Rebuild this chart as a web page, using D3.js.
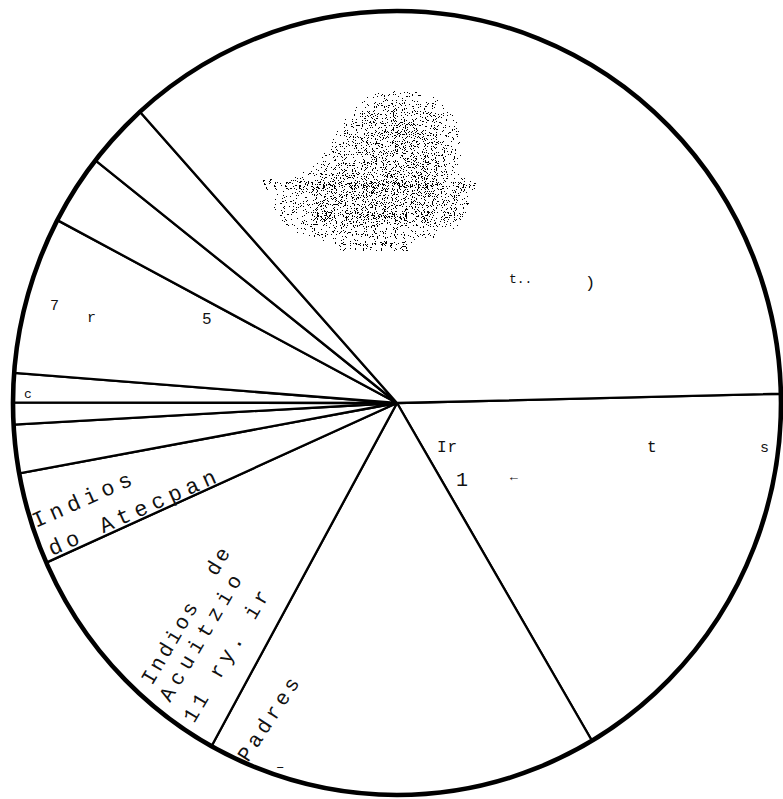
<!DOCTYPE html>
<html>
<head>
<meta charset="utf-8">
<script src="https://cdn.jsdelivr.net/npm/d3@7"></script>
<style>
  body { margin: 0; background: #fff; }
  svg { display: block; }
  .lbl { font-family: "Liberation Mono", "DejaVu Sans Mono", monospace; fill: #111; white-space: pre; }
</style>
</head>
<body>
<div id="chart"></div>
<script>
"use strict";

// slices, clockwise from the nearly horizontal spoke on the right
var sliceNames = ["Indios tributarios", "Padres", "Indios de Acuitzio", "Indios de Atecpan",
                  "Otros a", "Otros b", "Otros c", "Tr...s", "Otros d", "Otros e", "Españoles"];
var shares = [16.9, 16.5, 10.3, 3.8, 2.0, 0.9, 1.2, 6.5, 2.9, 2.7, 36.3];

// label text per slice (scan is faded, most of it unreadable)
var labelText = [
    ["Ir", "t", "s", "1", "\u2190"],
    ["Padres", "\u2013"],
    ["Indios  de", "Acuitzio", "11 ry. ir"],
    ["Indios", "do Atecpan"],
    [], [],
    ["c"],
    ["7", "r", "5"],
    [], [],
    ["Vecinos españoles de", "la ciudad y su", "comarca", "t..", ")"]
];

var width = 783, height = 799;
var cx = 397, cy = 403, rx = 384, ry = 392;
var startDeg = 88.65;

var svg = d3.select("#chart")
    .append("svg")
    .attr("width", width)
    .attr("height", height);

var defs = svg.append("defs");

// dot where noise + gain*alpha passes a cut
function speckleFilter(id, blur, gain, cut, seed) {
    var f = defs.append("filter")
        .attr("id", id)
        .attr("filterUnits", "userSpaceOnUse")
        .attr("x", 150).attr("y", 10).attr("width", 440).attr("height", 320)
        .attr("color-interpolation-filters", "sRGB");
    f.append("feTurbulence")
        .attr("type", "fractalNoise")
        .attr("baseFrequency", 0.9)
        .attr("numOctaves", 2)
        .attr("seed", seed)
        .attr("result", "noise");
    f.append("feColorMatrix")
        .attr("in", "noise")
        .attr("type", "matrix")
        .attr("values", "0 0 0 0 0  0 0 0 0 0  0 0 0 0 0  2.5 0 0 0 -0.75")
        .attr("result", "na");
    var src = "SourceAlpha";
    if (blur > 0) {
        f.append("feGaussianBlur").attr("in", "SourceAlpha").attr("stdDeviation", blur).attr("result", "soft");
        src = "soft";
    }
    f.append("feComposite")
        .attr("in", "na").attr("in2", src)
        .attr("operator", "arithmetic")
        .attr("k1", 0).attr("k2", 0.5).attr("k3", 0.5 * gain).attr("k4", -0.5 * cut)
        .attr("result", "sum");
    f.append("feComponentTransfer")
        .attr("in", "sum")
        .append("feFuncA").attr("type", "discrete").attr("tableValues", "0 0 1 1");
    f.append("feColorMatrix")
        .attr("type", "matrix")
        .attr("values", "0 0 0 0 0  0 0 0 0 0  0 0 0 0 0  0 0 0 1 0");
}
speckleFilter("blobSpeckle", 24, 0.9, 0.67, 4);
speckleFilter("textSpeckle", 0, 1, 0.55, 7);

// pie
var pie = d3.pie()
    .sort(null)
    .value(function(d){ return d; })
    .startAngle(startDeg * Math.PI / 180)
    .endAngle(startDeg * Math.PI / 180 + 2 * Math.PI);

var arc = d3.arc()
    .innerRadius(0)
    .outerRadius(rx);

var g = svg.append("g")
    .attr("transform", "translate(" + cx + "," + cy + ") scale(1," + (ry / rx) + ")");

g.selectAll(".slice")
    .data(pie(shares))
    .enter()
    .append("path")
    .attr("class", "slice")
    .attr("d", arc)
    .style("fill", "#fff")
    .style("stroke", "#000")
    .style("stroke-width", 2.3)
    .style("stroke-linejoin", "round")
    .attr("vector-effect", "non-scaling-stroke")
    .append("title")
    .text(function(d, i){ return sliceNames[i] + ": " + shares[i] + "%"; });

g.append("circle")
    .attr("r", rx)
    .style("fill", "none")
    .style("stroke", "#000")
    .style("stroke-width", 4.6)
    .attr("vector-effect", "non-scaling-stroke");

// smudged stamp in the top slice
var blob = svg.append("g").attr("filter", "url(#blobSpeckle)");
blob.append("ellipse")
    .attr("cx", 400).attr("cy", 130).attr("rx", 80).attr("ry", 58)
    .style("fill", "#000");
blob.append("ellipse")
    .attr("cx", 372).attr("cy", 205).attr("rx", 125).attr("ry", 58)
    .style("fill", "#000");

var stamp = svg.append("g").attr("filter", "url(#textSpeckle)");
var stampLines = labelText[10].slice(0, 3);
var stampPos = [[262, 190, 17], [312, 221, 17], [338, 251, 16]];
stampLines.forEach(function(t, i){
    stamp.append("text")
        .attr("class", "lbl")
        .attr("x", stampPos[i][0])
        .attr("y", stampPos[i][1])
        .style("font-size", stampPos[i][2] + "px")
        .style("font-weight", "bold")
        .style("letter-spacing", "0.6px")
        .style("fill", "#000")
        .text(t);
});

// label layout: [slice, line, x, y, rotation, size, letter-spacing]
var layout = [
    [0, 0, 437, 452, 0, 16, 1], [0, 1, 647, 452, 0, 16, 0], [0, 2, 760, 452, 0, 15, 0],
    [0, 3, 456, 486, 0, 20, 0], [0, 4, 510, 481, 0, 13, 0],
    [1, 0, 248, 763, -57, 21, 4], [1, 1, 276, 771, 0, 14, 0],
    [2, 0, 152, 686, -59.5, 21, 3.2], [2, 1, 170, 703, -59.5, 21, 6], [2, 2, 194, 724, -59.5, 21, 4.5],
    [3, 0, 36, 528, -24, 22, 5.5], [3, 1, 52, 556, -24, 22, 5.5],
    [6, 0, 24, 398, 0, 13, 0],
    [7, 0, 50, 310, 0, 15, 0], [7, 1, 87, 322, 0, 15, 0], [7, 2, 202, 324, 0, 16, 0],
    [10, 3, 509, 283, 0, 13, 0], [10, 4, 585, 288, 0, 17, 0]
];

svg.selectAll(".note")
    .data(layout)
    .enter()
    .append("text")
    .attr("class", "lbl note")
    .attr("transform", function(d){ return "translate(" + d[2] + "," + d[3] + ") rotate(" + d[4] + ")"; })
    .style("font-size", function(d){ return d[5] + "px"; })
    .style("letter-spacing", function(d){ return d[6] + "px"; })
    .text(function(d){ return labelText[d[0]][d[1]]; });
</script>
</body>
</html>
